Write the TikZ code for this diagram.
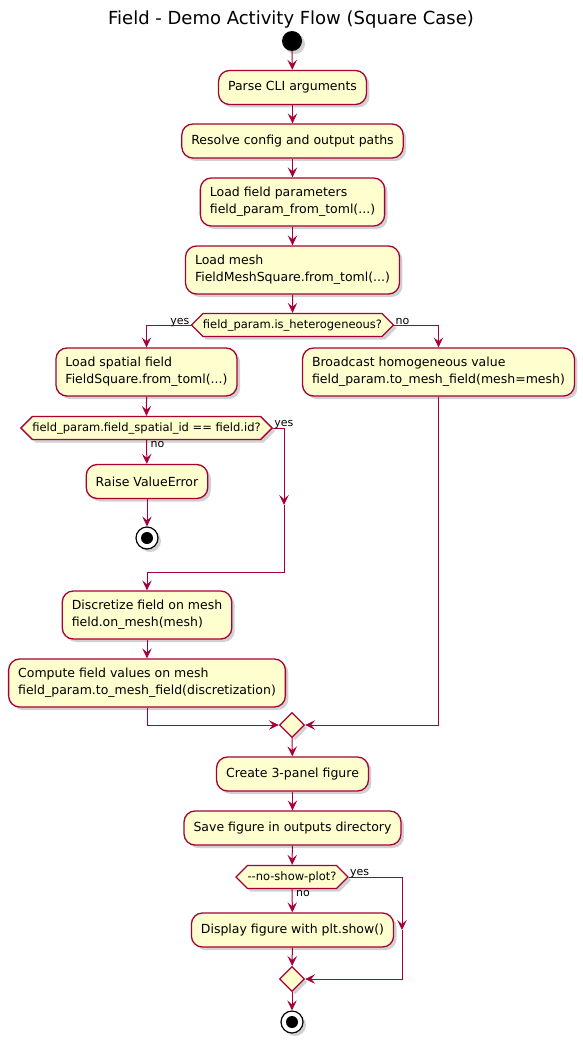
\documentclass[tikz,border=0pt]{standalone}
\usepackage{fontspec}
\setmainfont{DejaVu Sans}
\usetikzlibrary{arrows.meta,shapes.geometric,shapes.symbols,shadows}
\definecolor{pumlred}{HTML}{A80036}
\definecolor{pumlfill}{HTML}{FEFECE}
\begin{document}
\begin{tikzpicture}[x=1pt,y=-1pt,
  shadowed/.style={drop shadow={shadow xshift=3pt,shadow yshift=-3pt,opacity=0.3,fill=black!60}},
  act/.style={draw=pumlred,fill=pumlfill,line width=1.3pt,rounded corners=11pt,shadowed,
    font=\fontsize{12.5}{17}\selectfont,inner xsep=9.5pt,minimum height=34pt},
  act2/.style={act,align=left,minimum height=48pt},
  cond/.style={draw=pumlred,fill=pumlfill,line width=1.3pt,shape=signal,signal to=west and east,
    signal pointer angle=90,shadowed,font=\fontsize{11.5}{13}\selectfont,inner xsep=0pt,inner ysep=0pt,minimum height=23pt},
  merge/.style={draw=pumlred,fill=pumlfill,line width=1.3pt,shape=diamond,minimum size=25pt,inner sep=0pt,shadowed},
  startnode/.style={circle,fill=black,minimum size=20pt,inner sep=0pt,shadowed},
  stopnode/.style={circle,draw=black,fill=white,line width=1.2pt,minimum size=22pt,inner sep=0pt,shadowed,
    path picture={\fill[black] (path picture bounding box.center) circle (6pt);}},
  lbl/.style={font=\fontsize{11}{13}\selectfont,inner sep=0pt},
  conn/.style={draw=pumlred,line width=1pt},
  arr/.style={conn,-{Stealth[length=10pt,width=9.5pt,inset=4pt]}}
]
\useasboundingbox (0,0) rectangle (583,1043);

\node[font=\fontsize{18}{22}\selectfont] (title) at (291,20) {Field - Demo Activity Flow (Square Case)};

\node[startnode] (start) at (292,41) {};
\node[act] (parse) at (292.5,87.5) {Parse CLI arguments};
\node[act] (resolve) at (292.5,141) {Resolve config and output paths};
\node[act2] (params) at (292.5,202) {Load field parameters\\field\_param\_from\_toml(...)};
\node[act2] (mesh) at (292.5,270) {Load mesh\\FieldMeshSquare.from\_toml(...)};
\node[cond] (het) at (292.5,325) {field\_param.is\_heterogeneous?};

\node[act2] (spatial) at (146.5,372) {Load spatial field\\FieldSquare.from\_toml(...)};
\node[act2] (broadcast) at (438.5,372) {Broadcast homogeneous value\\field\_param.to\_mesh\_field(mesh=mesh)};
\node[cond] (idq) at (146.5,428) {field\_param.field\_spatial\_id == field.id?};
\node[act] (raise) at (147,481.5) {Raise ValueError};
\node[stopnode] (stop1) at (147,538) {};

\coordinate (ca) at (284,505);
\coordinate (cb) at (284,572);
\coordinate (cc) at (147,572);

\node[act2] (discretize) at (147,615) {Discretize field on mesh\\field.on\_mesh(mesh)};
\node[act2] (compute) at (147,683) {Compute field values on mesh\\field\_param.to\_mesh\_field(discretization)};
\node[merge] (merge1) at (292,725) {};

\node[act] (create) at (292.5,774) {Create 3-panel figure};
\node[act] (save) at (292.5,828) {Save figure in outputs directory};
\node[cond] (plotq) at (292,877) {-{}-no-show-plot?};
\node[act] (display) at (292.5,930) {Display figure with plt.show()};
\coordinate (cd) at (402,930);
\node[merge] (merge2) at (292,979) {};
\node[stopnode] (stop2) at (292,1022) {};

% connectors
\draw[arr] (start) -- (parse);
\draw[arr] (parse) -- (resolve);
\draw[arr] (resolve) -- (params);
\draw[arr] (params) -- (mesh);
\draw[arr] (mesh) -- (het);
\draw[arr] (het.west) -| (spatial.north);
\draw[arr] (het.east) -| (broadcast.north);
\node[lbl,anchor=base east] (yes1) at ([xshift=-1pt,yshift=1pt]het.west) {yes};
\node[lbl,anchor=base west] (no1) at ([xshift=1pt,yshift=1pt]het.east) {no};

\draw[arr] (spatial) -- (idq);
\draw[arr] (idq) -- (raise);
\node[lbl,anchor=north west] (no2) at ([xshift=4pt,yshift=-1pt]idq.south) {no};
\draw[arr] (raise) -- (stop1);
\draw[arr] (idq.east) -| (ca);
\node[lbl,anchor=base west] (yes2) at ([xshift=1pt,yshift=2pt]idq.east) {yes};
\draw[arr] (ca) -- (cb) -- (cc) -- (discretize.north);

\draw[arr] (discretize) -- (compute);
\draw[arr] (compute.south) |- (merge1.west);
\draw[arr] (broadcast.south) |- (merge1.east);
\draw[arr] (merge1) -- (create);
\draw[arr] (create) -- (save);
\draw[arr] (save) -- (plotq);
\draw[arr] (plotq) -- (display);
\node[lbl,anchor=north west] (no3) at ([xshift=4pt,yshift=-1pt]plotq.south) {no};
\draw[arr] (plotq.east) -| (cd);
\node[lbl,anchor=base west] (yes3) at ([xshift=1pt,yshift=2pt]plotq.east) {yes};
\draw[arr] (cd) |- (merge2.east);
\draw[arr] (display) -- (merge2);
\draw[arr] (merge2) -- (stop2);
\end{tikzpicture}
\end{document}
